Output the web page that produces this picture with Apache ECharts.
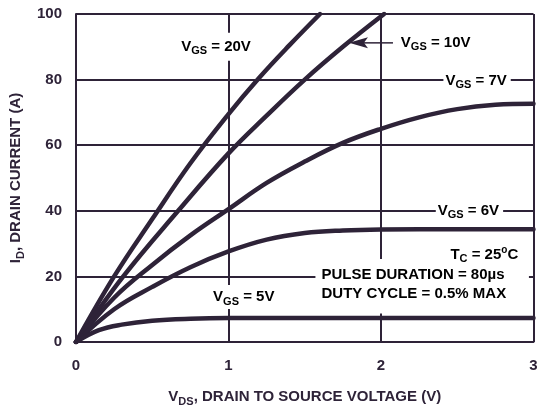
<!DOCTYPE html>
<html><head><meta charset="utf-8">
<script src="https://cdn.jsdelivr.net/npm/echarts@6/dist/echarts.min.js"></script>
<style>html,body{margin:0;padding:0;background:#fff}#c{width:541px;height:412px}</style>
</head><body><div id="c"></div>
<script>
// ---- data ----
const xTicks = [0, 1, 2, 3];
const yTicks = [0, 20, 40, 60, 80, 100];

const vgs20X = [0, 0.25, 0.5, 0.75, 1, 1.2, 1.4, 1.6];
const vgs20Y = [0, 20, 37.5, 54.5, 69.5, 80.5, 90.5, 100];

const vgs10X = [0, 0.31, 0.67, 1, 1.25, 1.5, 1.75, 2.02];
const vgs10Y = [0, 20, 40, 57.5, 69, 80, 90, 100];

const vgs7X = [0, 0.25, 0.5, 0.75, 1, 1.25, 1.5, 1.75, 2, 2.25, 2.5, 2.75, 3];
const vgs7Y = [0, 13.5, 23.5, 32.5, 40.5, 48.5, 55, 60.7, 65, 68.5, 71, 72.3, 72.6];

const vgs6X = [0, 0.25, 0.5, 0.75, 1, 1.25, 1.5, 1.75, 2, 2.5, 3];
const vgs6Y = [0, 10, 16.8, 22.8, 27.6, 31.2, 33.2, 34, 34.3, 34.4, 34.4];

const vgs5X = [0, 0.15, 0.3, 0.5, 0.75, 1, 1.5, 2, 2.5, 3];
const vgs5Y = [0, 3.6, 5.3, 6.5, 7.1, 7.3, 7.3, 7.3, 7.3, 7.3];

const seriesNames = ['VGS = 20V', 'VGS = 10V', 'VGS = 7V', 'VGS = 6V', 'VGS = 5V'];
const seriesX = [vgs20X, vgs10X, vgs7X, vgs6X, vgs5X];
const seriesY = [vgs20Y, vgs10Y, vgs7Y, vgs6Y, vgs5Y];

// ---- styling ----
const INK = '#2e2338';
const FONT = '"Liberation Sans", Arial, Helvetica, sans-serif';
const FS = 15;

const zip = (xs, ys) => xs.map((x, i) => [x, ys[i]]);

const chart = echarts.init(document.getElementById('c'), null, {renderer: 'canvas'});

const rich = {
  m: {fontFamily: FONT, fontWeight: 'bold', fontSize: FS, color: INK},
  s: {fontFamily: FONT, fontWeight: 'bold', fontSize: 11, color: INK, padding: [9, 0, 0, 0]},
  p: {fontFamily: FONT, fontWeight: 'bold', fontSize: 10, color: INK, padding: [0, 0, 9, 0]}
};

chart.setOption({
  animation: false,
  backgroundColor: '#fff',
  grid: {left: 76, right: 7.5, top: 14, bottom: 65, containLabel: false},
  xAxis: {
    type: 'value', min: xTicks[0], max: xTicks[xTicks.length - 1], interval: 1,
    axisLine: {show: true, lineStyle: {color: INK, width: 2}},
    axisTick: {show: false},
    splitLine: {show: true, lineStyle: {color: INK, width: 2}},
    axisLabel: {margin: 16, fontFamily: FONT, fontWeight: 'bold', fontSize: FS, color: INK},
    name: '{m|V}{s|DS}{m|, DRAIN TO SOURCE VOLTAGE (V)}',
    nameLocation: 'middle', nameGap: 45,
    nameTextStyle: {rich: rich}
  },
  yAxis: {
    type: 'value', min: yTicks[0], max: yTicks[yTicks.length - 1], interval: 20,
    axisLine: {show: true, lineStyle: {color: INK, width: 2}},
    axisTick: {show: false},
    splitLine: {show: true, lineStyle: {color: INK, width: 2}},
    axisLabel: {margin: 14, fontFamily: FONT, fontWeight: 'bold', fontSize: FS, color: INK},
    name: '{m|I}{s|D}{m|, DRAIN CURRENT (A)}',
    nameLocation: 'middle', nameGap: 48, nameRotate: 90,
    nameTextStyle: {rich: rich}
  },
  series: seriesNames.map((n, i) => ({
    name: n, type: 'line', data: zip(seriesX[i], seriesY[i]),
    smooth: 0.4, showSymbol: false, symbol: 'none',
    lineStyle: {color: INK, width: 4.5, cap: 'round', join: 'round'}, z: 3
  }))
});

const P = (x, y) => chart.convertToPixel({gridIndex: 0}, [x, y]);

function label(pos, text, opts) {
  return Object.assign({
    type: 'text', x: pos[0], y: pos[1], z: 1,
    style: Object.assign({text: text, rich: rich, align: 'center', verticalAlign: 'middle'}, opts || {})
  });
}

const p20 = P(0.918, 90);
const p10 = P(2.13, 91.2);
const p7 = P(2.63, 79.6);
const p6 = P(2.58, 40.1);
const p5 = P(1.1, 13.7);
const pTc = P(2.9, 26.6);
const pPulse = P(1.61, 20.4);
const pDuty = P(1.61, 14.7);
const tip = P(1.79, 91.2);
const boxA = P(1.57, 25.3);
const boxB = P(2.97, 8.7);

chart.setOption({
  graphic: [
    {type: 'rect', z: 1, shape: {x: boxA[0], y: boxA[1], width: boxB[0] - boxA[0], height: boxB[1] - boxA[1]}, style: {fill: '#fff'}},
    label(p20, '{m|V}{s|GS}{m| = 20V}', {backgroundColor: '#fff', padding: [4, 4]}),
    label(p10, '{m|V}{s|GS}{m| = 10V}', {align: 'left', backgroundColor: '#fff', padding: [0, 0]}),
    label(p7, '{m|V}{s|GS}{m| = 7V}', {backgroundColor: '#fff', padding: [0, 4, 0, 2]}),
    label(p6, '{m|V}{s|GS}{m| = 6V}', {backgroundColor: '#fff', padding: [0, 4, 0, 2]}),
    label(p5, '{m|V}{s|GS}{m| = 5V}', {backgroundColor: '#fff', padding: [2, 2]}),
    label(pTc, '{m|T}{s|C}{m| = 25}{p|o}{m|C}', {align: 'right', z: 2}),
    label(pPulse, '{m|PULSE DURATION = 80µs}', {align: 'left', z: 2}),
    label(pDuty, '{m|DUTY CYCLE = 0.5% MAX}', {align: 'left', z: 2}),
    {type: 'line', z: 4, shape: {x1: tip[0] + 14, y1: tip[1], x2: tip[0] + 44, y2: tip[1]}, style: {stroke: INK, lineWidth: 1.5}},
    {type: 'polygon', z: 4, shape: {points: [[tip[0], tip[1]], [tip[0] + 19, tip[1] - 5.5], [tip[0] + 15, tip[1]], [tip[0] + 19, tip[1] + 5.5]]}, style: {fill: INK}}
  ]
});
</script>
</body></html>
